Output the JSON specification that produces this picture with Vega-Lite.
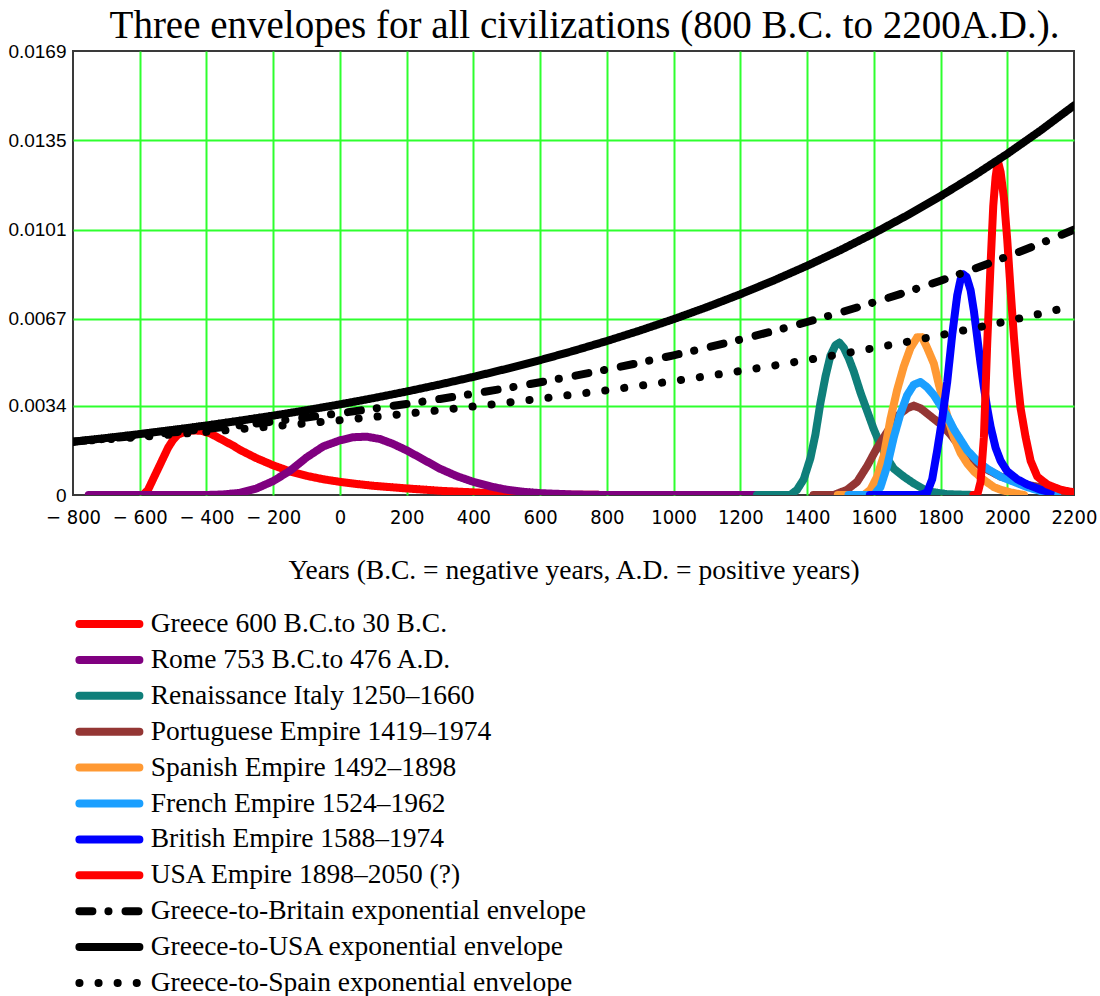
{
  "$schema": "https://vega.github.io/schema/vega-lite/v6.json",
  "width": 1001,
  "height": 444,
  "autosize": {"type": "none"},
  "padding": {"left": 73, "top": 51, "right": 26, "bottom": 501},
  "background": "white",
  "title": {
    "text": "Three envelopes for all civilizations (800 B.C. to 2200A.D.).",
    "font": "Liberation Serif",
    "fontSize": 39,
    "fontWeight": "normal",
    "color": "black",
    "anchor": "middle",
    "offset": -4,
    "dx": 11
  },
  "config": {
    "view": {"stroke": "#3a3a3a", "strokeWidth": 2}
  },
  "encoding": {
    "x": {
      "field": "x",
      "type": "quantitative",
      "scale": {"domain": [-800, 2200], "nice": false, "zero": false},
      "axis": {
        "values": [-800, -600, -400, -200, 0, 200, 400, 600, 800, 1000, 1200, 1400, 1600, 1800, 2000, 2200],
        "format": "d",
        "labelExpr": "datum.value < 0 ? '− ' + (-datum.value) : datum.label",
        "title": "Years (B.C. = negative years, A.D. = positive years)",
        "titleFont": "Liberation Serif",
        "titleFontSize": 27.5,
        "titleFontWeight": "normal",
        "titleColor": "black",
        "titlePadding": 29,
        "labelFont": "DejaVu Sans Condensed, Liberation Sans",
        "labelFontSize": 20,
        "labelColor": "black",
        "labelPadding": 12,
        "labelFlush": false,
        "labelOverlap": false,
        "ticks": false,
        "domain": false,
        "gridColor": "#2eff2e",
        "gridWidth": 2,
        "gridOpacity": {"condition": {"test": "datum.value <= -800 || datum.value >= 2200", "value": 0}, "value": 1}
      }
    },
    "y": {
      "field": "y",
      "type": "quantitative",
      "scale": {"domain": [0, 0.0169], "nice": false},
      "axis": {
        "values": [0, 0.0034, 0.0067, 0.0101, 0.0135, 0.0169],
        "format": ".4~f",
        "title": null,
        "labelFont": "Liberation Sans",
        "labelFontSize": 19,
        "labelColor": "black",
        "labelPadding": 7,
        "ticks": false,
        "domain": false,
        "gridColor": "#2eff2e",
        "gridWidth": 2,
        "gridOpacity": {"condition": {"test": "datum.value < 0.001 || datum.value > 0.0165", "value": 0}, "value": 1}
      }
    },
    "color": {
      "field": "s",
      "type": "nominal",
      "scale": {
        "domain": ["Greece 600 B.C.to 30 B.C.", "Rome 753 B.C.to 476 A.D.", "Renaissance Italy 1250–1660", "Portuguese Empire 1419–1974", "Spanish Empire 1492–1898", "French Empire 1524–1962", "British Empire 1588–1974", "USA Empire 1898–2050 (?)", "Greece-to-Britain exponential envelope", "Greece-to-USA exponential envelope", "Greece-to-Spain exponential envelope"],
        "range": ["#ff0000", "#800080", "#0f7f7a", "#943634", "#ff9933", "#1a9fff", "#0000ff", "#ff0000", "#000000", "#000000", "#000000"]
      },
      "legend": {
        "title": null,
        "orient": "none",
        "legendX": 22.4,
        "legendY": 559,
        "direction": "vertical",
        "symbolType": "M-3,0L3,0",
        "symbolSize": 400,
        "symbolStrokeWidth": 8,
        "labelFont": "Liberation Serif",
        "labelFontSize": 27.5,
        "labelColor": "black",
        "labelOffset": 27.3,
        "labelLimit": 800,
        "rowPadding": 3.9,
        "padding": 0,
        "encode": {"symbols": {"update": {"strokeCap": {"value": "round"}}}}
      }
    },
    "strokeDash": {
      "field": "s",
      "type": "nominal",
      "scale": {
        "domain": ["Greece 600 B.C.to 30 B.C.", "Rome 753 B.C.to 476 A.D.", "Renaissance Italy 1250–1660", "Portuguese Empire 1419–1974", "Spanish Empire 1492–1898", "French Empire 1524–1962", "British Empire 1588–1974", "USA Empire 1898–2050 (?)", "Greece-to-Britain exponential envelope", "Greece-to-USA exponential envelope", "Greece-to-Spain exponential envelope"],
        "range": [[1, 0], [1, 0], [1, 0], [1, 0], [1, 0], [1, 0], [1, 0], [1, 0], [13, 16, 0.1, 17], [1, 0], [0.1, 19]]
      },
      "legend": {
        "title": null,
        "orient": "none",
        "legendX": 22.4,
        "legendY": 559,
        "direction": "vertical",
        "symbolType": "M-3,0L3,0",
        "symbolSize": 400,
        "symbolStrokeWidth": 8,
        "labelFont": "Liberation Serif",
        "labelFontSize": 27.5,
        "labelColor": "black",
        "labelOffset": 27.3,
        "labelLimit": 800,
        "rowPadding": 3.9,
        "padding": 0,
        "encode": {"symbols": {"update": {"strokeCap": {"value": "round"}}}}
      }
    }
  },
  "layer": [
    {
      "data": {"values": [
        {"s": "Greece 600 B.C.to 30 B.C.", "x": -600, "y": 0},
        {"s": "Greece 600 B.C.to 30 B.C.", "x": -590, "y": 0},
        {"s": "Greece 600 B.C.to 30 B.C.", "x": -575, "y": 0.0002},
        {"s": "Greece 600 B.C.to 30 B.C.", "x": -560, "y": 0.0006},
        {"s": "Greece 600 B.C.to 30 B.C.", "x": -545, "y": 0.001},
        {"s": "Greece 600 B.C.to 30 B.C.", "x": -530, "y": 0.0014},
        {"s": "Greece 600 B.C.to 30 B.C.", "x": -515, "y": 0.0018},
        {"s": "Greece 600 B.C.to 30 B.C.", "x": -500, "y": 0.0021},
        {"s": "Greece 600 B.C.to 30 B.C.", "x": -485, "y": 0.0023},
        {"s": "Greece 600 B.C.to 30 B.C.", "x": -465, "y": 0.0024},
        {"s": "Greece 600 B.C.to 30 B.C.", "x": -440, "y": 0.00246},
        {"s": "Greece 600 B.C.to 30 B.C.", "x": -415, "y": 0.00244},
        {"s": "Greece 600 B.C.to 30 B.C.", "x": -390, "y": 0.00235},
        {"s": "Greece 600 B.C.to 30 B.C.", "x": -370, "y": 0.00222},
        {"s": "Greece 600 B.C.to 30 B.C.", "x": -350, "y": 0.00208},
        {"s": "Greece 600 B.C.to 30 B.C.", "x": -320, "y": 0.00188},
        {"s": "Greece 600 B.C.to 30 B.C.", "x": -300, "y": 0.00172},
        {"s": "Greece 600 B.C.to 30 B.C.", "x": -250, "y": 0.0014},
        {"s": "Greece 600 B.C.to 30 B.C.", "x": -200, "y": 0.00113},
        {"s": "Greece 600 B.C.to 30 B.C.", "x": -150, "y": 0.0009},
        {"s": "Greece 600 B.C.to 30 B.C.", "x": -100, "y": 0.00073},
        {"s": "Greece 600 B.C.to 30 B.C.", "x": -50, "y": 0.0006},
        {"s": "Greece 600 B.C.to 30 B.C.", "x": 0, "y": 0.0005},
        {"s": "Greece 600 B.C.to 30 B.C.", "x": 50, "y": 0.00042},
        {"s": "Greece 600 B.C.to 30 B.C.", "x": 100, "y": 0.00035},
        {"s": "Greece 600 B.C.to 30 B.C.", "x": 200, "y": 0.00025},
        {"s": "Greece 600 B.C.to 30 B.C.", "x": 300, "y": 0.00016},
        {"s": "Greece 600 B.C.to 30 B.C.", "x": 400, "y": 0.0001},
        {"s": "Greece 600 B.C.to 30 B.C.", "x": 500, "y": 0.00005},
        {"s": "Greece 600 B.C.to 30 B.C.", "x": 600, "y": 0.00002},
        {"s": "Greece 600 B.C.to 30 B.C.", "x": 700, "y": 0.00001},
        {"s": "Greece 600 B.C.to 30 B.C.", "x": 840, "y": 0},

        {"s": "Rome 753 B.C.to 476 A.D.", "x": -753, "y": 0},
        {"s": "Rome 753 B.C.to 476 A.D.", "x": -400, "y": 0},
        {"s": "Rome 753 B.C.to 476 A.D.", "x": -350, "y": 0.00002},
        {"s": "Rome 753 B.C.to 476 A.D.", "x": -300, "y": 0.00008},
        {"s": "Rome 753 B.C.to 476 A.D.", "x": -250, "y": 0.00025},
        {"s": "Rome 753 B.C.to 476 A.D.", "x": -200, "y": 0.00053},
        {"s": "Rome 753 B.C.to 476 A.D.", "x": -150, "y": 0.00092},
        {"s": "Rome 753 B.C.to 476 A.D.", "x": -100, "y": 0.00143},
        {"s": "Rome 753 B.C.to 476 A.D.", "x": -50, "y": 0.00185},
        {"s": "Rome 753 B.C.to 476 A.D.", "x": 0, "y": 0.00208},
        {"s": "Rome 753 B.C.to 476 A.D.", "x": 40, "y": 0.0022},
        {"s": "Rome 753 B.C.to 476 A.D.", "x": 80, "y": 0.00222},
        {"s": "Rome 753 B.C.to 476 A.D.", "x": 120, "y": 0.00213},
        {"s": "Rome 753 B.C.to 476 A.D.", "x": 160, "y": 0.00194},
        {"s": "Rome 753 B.C.to 476 A.D.", "x": 200, "y": 0.0017},
        {"s": "Rome 753 B.C.to 476 A.D.", "x": 250, "y": 0.00135},
        {"s": "Rome 753 B.C.to 476 A.D.", "x": 300, "y": 0.001},
        {"s": "Rome 753 B.C.to 476 A.D.", "x": 350, "y": 0.00072},
        {"s": "Rome 753 B.C.to 476 A.D.", "x": 400, "y": 0.0005},
        {"s": "Rome 753 B.C.to 476 A.D.", "x": 450, "y": 0.00033},
        {"s": "Rome 753 B.C.to 476 A.D.", "x": 500, "y": 0.0002},
        {"s": "Rome 753 B.C.to 476 A.D.", "x": 550, "y": 0.00012},
        {"s": "Rome 753 B.C.to 476 A.D.", "x": 600, "y": 0.00007},
        {"s": "Rome 753 B.C.to 476 A.D.", "x": 700, "y": 0.00002},
        {"s": "Rome 753 B.C.to 476 A.D.", "x": 800, "y": 0},
        {"s": "Rome 753 B.C.to 476 A.D.", "x": 1250, "y": 0},

        {"s": "Renaissance Italy 1250–1660", "x": 1250, "y": 0},
        {"s": "Renaissance Italy 1250–1660", "x": 1350, "y": 0},
        {"s": "Renaissance Italy 1250–1660", "x": 1370, "y": 0.0002},
        {"s": "Renaissance Italy 1250–1660", "x": 1390, "y": 0.0006},
        {"s": "Renaissance Italy 1250–1660", "x": 1410, "y": 0.0014},
        {"s": "Renaissance Italy 1250–1660", "x": 1425, "y": 0.0023},
        {"s": "Renaissance Italy 1250–1660", "x": 1440, "y": 0.0035},
        {"s": "Renaissance Italy 1250–1660", "x": 1455, "y": 0.0045},
        {"s": "Renaissance Italy 1250–1660", "x": 1470, "y": 0.0053},
        {"s": "Renaissance Italy 1250–1660", "x": 1485, "y": 0.0057},
        {"s": "Renaissance Italy 1250–1660", "x": 1497, "y": 0.0058},
        {"s": "Renaissance Italy 1250–1660", "x": 1510, "y": 0.0056},
        {"s": "Renaissance Italy 1250–1660", "x": 1525, "y": 0.0052},
        {"s": "Renaissance Italy 1250–1660", "x": 1540, "y": 0.0047},
        {"s": "Renaissance Italy 1250–1660", "x": 1560, "y": 0.0039},
        {"s": "Renaissance Italy 1250–1660", "x": 1580, "y": 0.0032},
        {"s": "Renaissance Italy 1250–1660", "x": 1600, "y": 0.0025},
        {"s": "Renaissance Italy 1250–1660", "x": 1620, "y": 0.0019},
        {"s": "Renaissance Italy 1250–1660", "x": 1640, "y": 0.0014},
        {"s": "Renaissance Italy 1250–1660", "x": 1660, "y": 0.001},
        {"s": "Renaissance Italy 1250–1660", "x": 1690, "y": 0.0007},
        {"s": "Renaissance Italy 1250–1660", "x": 1720, "y": 0.00044},
        {"s": "Renaissance Italy 1250–1660", "x": 1750, "y": 0.00022},
        {"s": "Renaissance Italy 1250–1660", "x": 1780, "y": 0.0001},
        {"s": "Renaissance Italy 1250–1660", "x": 1820, "y": 0.00003},
        {"s": "Renaissance Italy 1250–1660", "x": 1900, "y": 0},

        {"s": "Portuguese Empire 1419–1974", "x": 1419, "y": 0},
        {"s": "Portuguese Empire 1419–1974", "x": 1480, "y": 0},
        {"s": "Portuguese Empire 1419–1974", "x": 1520, "y": 0.0002},
        {"s": "Portuguese Empire 1419–1974", "x": 1550, "y": 0.0005},
        {"s": "Portuguese Empire 1419–1974", "x": 1580, "y": 0.0011},
        {"s": "Portuguese Empire 1419–1974", "x": 1610, "y": 0.0018},
        {"s": "Portuguese Empire 1419–1974", "x": 1640, "y": 0.0024},
        {"s": "Portuguese Empire 1419–1974", "x": 1670, "y": 0.003},
        {"s": "Portuguese Empire 1419–1974", "x": 1700, "y": 0.0033},
        {"s": "Portuguese Empire 1419–1974", "x": 1720, "y": 0.0034},
        {"s": "Portuguese Empire 1419–1974", "x": 1740, "y": 0.0033},
        {"s": "Portuguese Empire 1419–1974", "x": 1770, "y": 0.003},
        {"s": "Portuguese Empire 1419–1974", "x": 1800, "y": 0.0027},
        {"s": "Portuguese Empire 1419–1974", "x": 1830, "y": 0.0023},
        {"s": "Portuguese Empire 1419–1974", "x": 1860, "y": 0.0018},
        {"s": "Portuguese Empire 1419–1974", "x": 1890, "y": 0.0014},
        {"s": "Portuguese Empire 1419–1974", "x": 1920, "y": 0.0011},
        {"s": "Portuguese Empire 1419–1974", "x": 1950, "y": 0.0009},
        {"s": "Portuguese Empire 1419–1974", "x": 1980, "y": 0.0007},
        {"s": "Portuguese Empire 1419–1974", "x": 2010, "y": 0.0006},
        {"s": "Portuguese Empire 1419–1974", "x": 2050, "y": 0.0004},
        {"s": "Portuguese Empire 1419–1974", "x": 2100, "y": 0.0003},
        {"s": "Portuguese Empire 1419–1974", "x": 2150, "y": 0.00015},
        {"s": "Portuguese Empire 1419–1974", "x": 2180, "y": 0.0001},

        {"s": "Spanish Empire 1492–1898", "x": 1492, "y": 0},
        {"s": "Spanish Empire 1492–1898", "x": 1570, "y": 0},
        {"s": "Spanish Empire 1492–1898", "x": 1590, "y": 0.0002},
        {"s": "Spanish Empire 1492–1898", "x": 1610, "y": 0.0007},
        {"s": "Spanish Empire 1492–1898", "x": 1630, "y": 0.0015},
        {"s": "Spanish Empire 1492–1898", "x": 1650, "y": 0.0029},
        {"s": "Spanish Empire 1492–1898", "x": 1670, "y": 0.004},
        {"s": "Spanish Empire 1492–1898", "x": 1690, "y": 0.0049},
        {"s": "Spanish Empire 1492–1898", "x": 1710, "y": 0.0056},
        {"s": "Spanish Empire 1492–1898", "x": 1730, "y": 0.006},
        {"s": "Spanish Empire 1492–1898", "x": 1745, "y": 0.006},
        {"s": "Spanish Empire 1492–1898", "x": 1760, "y": 0.0056},
        {"s": "Spanish Empire 1492–1898", "x": 1780, "y": 0.005},
        {"s": "Spanish Empire 1492–1898", "x": 1795, "y": 0.0042},
        {"s": "Spanish Empire 1492–1898", "x": 1810, "y": 0.0035},
        {"s": "Spanish Empire 1492–1898", "x": 1825, "y": 0.0028},
        {"s": "Spanish Empire 1492–1898", "x": 1840, "y": 0.0022},
        {"s": "Spanish Empire 1492–1898", "x": 1860, "y": 0.0016},
        {"s": "Spanish Empire 1492–1898", "x": 1880, "y": 0.0012},
        {"s": "Spanish Empire 1492–1898", "x": 1900, "y": 0.0009},
        {"s": "Spanish Empire 1492–1898", "x": 1930, "y": 0.00057},
        {"s": "Spanish Empire 1492–1898", "x": 1960, "y": 0.0003},
        {"s": "Spanish Empire 1492–1898", "x": 1980, "y": 0.0002},
        {"s": "Spanish Empire 1492–1898", "x": 2010, "y": 0.0001},
        {"s": "Spanish Empire 1492–1898", "x": 2050, "y": 0},

        {"s": "French Empire 1524–1962", "x": 1524, "y": 0},
        {"s": "French Empire 1524–1962", "x": 1600, "y": 0},
        {"s": "French Empire 1524–1962", "x": 1620, "y": 0.0003},
        {"s": "French Empire 1524–1962", "x": 1640, "y": 0.0011},
        {"s": "French Empire 1524–1962", "x": 1660, "y": 0.0022},
        {"s": "French Empire 1524–1962", "x": 1680, "y": 0.0031},
        {"s": "French Empire 1524–1962", "x": 1700, "y": 0.0038},
        {"s": "French Empire 1524–1962", "x": 1720, "y": 0.0042},
        {"s": "French Empire 1524–1962", "x": 1740, "y": 0.0043},
        {"s": "French Empire 1524–1962", "x": 1760, "y": 0.0041},
        {"s": "French Empire 1524–1962", "x": 1780, "y": 0.0038},
        {"s": "French Empire 1524–1962", "x": 1800, "y": 0.0034},
        {"s": "French Empire 1524–1962", "x": 1820, "y": 0.003},
        {"s": "French Empire 1524–1962", "x": 1840, "y": 0.0025},
        {"s": "French Empire 1524–1962", "x": 1860, "y": 0.0021},
        {"s": "French Empire 1524–1962", "x": 1880, "y": 0.0017},
        {"s": "French Empire 1524–1962", "x": 1910, "y": 0.0013},
        {"s": "French Empire 1524–1962", "x": 1940, "y": 0.001},
        {"s": "French Empire 1524–1962", "x": 1980, "y": 0.0007},
        {"s": "French Empire 1524–1962", "x": 2020, "y": 0.0005},
        {"s": "French Empire 1524–1962", "x": 2060, "y": 0.0003},
        {"s": "French Empire 1524–1962", "x": 2100, "y": 0.00015},
        {"s": "French Empire 1524–1962", "x": 2150, "y": 0.00005},

        {"s": "British Empire 1588–1974", "x": 1588, "y": 0},
        {"s": "British Empire 1588–1974", "x": 1740, "y": 0},
        {"s": "British Empire 1588–1974", "x": 1760, "y": 0.0001},
        {"s": "British Empire 1588–1974", "x": 1775, "y": 0.0006},
        {"s": "British Empire 1588–1974", "x": 1790, "y": 0.0017},
        {"s": "British Empire 1588–1974", "x": 1805, "y": 0.0029},
        {"s": "British Empire 1588–1974", "x": 1820, "y": 0.0043},
        {"s": "British Empire 1588–1974", "x": 1835, "y": 0.0061},
        {"s": "British Empire 1588–1974", "x": 1850, "y": 0.0076},
        {"s": "British Empire 1588–1974", "x": 1860, "y": 0.0082},
        {"s": "British Empire 1588–1974", "x": 1868, "y": 0.0084},
        {"s": "British Empire 1588–1974", "x": 1878, "y": 0.0083},
        {"s": "British Empire 1588–1974", "x": 1890, "y": 0.0078},
        {"s": "British Empire 1588–1974", "x": 1900, "y": 0.007},
        {"s": "British Empire 1588–1974", "x": 1910, "y": 0.006},
        {"s": "British Empire 1588–1974", "x": 1920, "y": 0.005},
        {"s": "British Empire 1588–1974", "x": 1930, "y": 0.0041},
        {"s": "British Empire 1588–1974", "x": 1940, "y": 0.0033},
        {"s": "British Empire 1588–1974", "x": 1950, "y": 0.0026},
        {"s": "British Empire 1588–1974", "x": 1965, "y": 0.0018},
        {"s": "British Empire 1588–1974", "x": 1980, "y": 0.0013},
        {"s": "British Empire 1588–1974", "x": 2000, "y": 0.0009},
        {"s": "British Empire 1588–1974", "x": 2030, "y": 0.0006},
        {"s": "British Empire 1588–1974", "x": 2060, "y": 0.0004},
        {"s": "British Empire 1588–1974", "x": 2100, "y": 0.0002},
        {"s": "British Empire 1588–1974", "x": 2130, "y": 0.0001},

        {"s": "USA Empire 1898–2050 (?)", "x": 1898, "y": 0},
        {"s": "USA Empire 1898–2050 (?)", "x": 1910, "y": 0},
        {"s": "USA Empire 1898–2050 (?)", "x": 1920, "y": 0.0005},
        {"s": "USA Empire 1898–2050 (?)", "x": 1930, "y": 0.0022},
        {"s": "USA Empire 1898–2050 (?)", "x": 1940, "y": 0.0058},
        {"s": "USA Empire 1898–2050 (?)", "x": 1950, "y": 0.0088},
        {"s": "USA Empire 1898–2050 (?)", "x": 1958, "y": 0.011},
        {"s": "USA Empire 1898–2050 (?)", "x": 1965, "y": 0.0121},
        {"s": "USA Empire 1898–2050 (?)", "x": 1972, "y": 0.0127},
        {"s": "USA Empire 1898–2050 (?)", "x": 1980, "y": 0.0123},
        {"s": "USA Empire 1898–2050 (?)", "x": 1990, "y": 0.0113},
        {"s": "USA Empire 1898–2050 (?)", "x": 2000, "y": 0.0097},
        {"s": "USA Empire 1898–2050 (?)", "x": 2010, "y": 0.0078},
        {"s": "USA Empire 1898–2050 (?)", "x": 2020, "y": 0.006},
        {"s": "USA Empire 1898–2050 (?)", "x": 2030, "y": 0.0045},
        {"s": "USA Empire 1898–2050 (?)", "x": 2040, "y": 0.0033},
        {"s": "USA Empire 1898–2050 (?)", "x": 2055, "y": 0.0022},
        {"s": "USA Empire 1898–2050 (?)", "x": 2070, "y": 0.0013},
        {"s": "USA Empire 1898–2050 (?)", "x": 2090, "y": 0.0007},
        {"s": "USA Empire 1898–2050 (?)", "x": 2120, "y": 0.0004},
        {"s": "USA Empire 1898–2050 (?)", "x": 2160, "y": 0.0002},
        {"s": "USA Empire 1898–2050 (?)", "x": 2200, "y": 0.0001}
      ]},
      "mark": {"type": "line", "strokeWidth": 8, "strokeCap": "round", "strokeJoin": "round", "clip": true}
    },
    {
      "data": {"values": [
        {"s": "Greece-to-Britain exponential envelope", "x": -800, "y": 0.00203},
        {"s": "Greece-to-Britain exponential envelope", "x": -700, "y": 0.002142},
        {"s": "Greece-to-Britain exponential envelope", "x": -600, "y": 0.002259},
        {"s": "Greece-to-Britain exponential envelope", "x": -500, "y": 0.002383},
        {"s": "Greece-to-Britain exponential envelope", "x": -400, "y": 0.002514},
        {"s": "Greece-to-Britain exponential envelope", "x": -300, "y": 0.002652},
        {"s": "Greece-to-Britain exponential envelope", "x": -200, "y": 0.002798},
        {"s": "Greece-to-Britain exponential envelope", "x": -100, "y": 0.002952},
        {"s": "Greece-to-Britain exponential envelope", "x": 0, "y": 0.003114},
        {"s": "Greece-to-Britain exponential envelope", "x": 100, "y": 0.003285},
        {"s": "Greece-to-Britain exponential envelope", "x": 200, "y": 0.003466},
        {"s": "Greece-to-Britain exponential envelope", "x": 300, "y": 0.003656},
        {"s": "Greece-to-Britain exponential envelope", "x": 400, "y": 0.003857},
        {"s": "Greece-to-Britain exponential envelope", "x": 500, "y": 0.004069},
        {"s": "Greece-to-Britain exponential envelope", "x": 600, "y": 0.004292},
        {"s": "Greece-to-Britain exponential envelope", "x": 700, "y": 0.004528},
        {"s": "Greece-to-Britain exponential envelope", "x": 800, "y": 0.004777},
        {"s": "Greece-to-Britain exponential envelope", "x": 900, "y": 0.00504},
        {"s": "Greece-to-Britain exponential envelope", "x": 1000, "y": 0.005317},
        {"s": "Greece-to-Britain exponential envelope", "x": 1100, "y": 0.005609},
        {"s": "Greece-to-Britain exponential envelope", "x": 1200, "y": 0.005917},
        {"s": "Greece-to-Britain exponential envelope", "x": 1300, "y": 0.006242},
        {"s": "Greece-to-Britain exponential envelope", "x": 1400, "y": 0.006585},
        {"s": "Greece-to-Britain exponential envelope", "x": 1500, "y": 0.006947},
        {"s": "Greece-to-Britain exponential envelope", "x": 1600, "y": 0.007329},
        {"s": "Greece-to-Britain exponential envelope", "x": 1700, "y": 0.007731},
        {"s": "Greece-to-Britain exponential envelope", "x": 1800, "y": 0.008156},
        {"s": "Greece-to-Britain exponential envelope", "x": 1900, "y": 0.008604},
        {"s": "Greece-to-Britain exponential envelope", "x": 2000, "y": 0.009077},
        {"s": "Greece-to-Britain exponential envelope", "x": 2100, "y": 0.009576},
        {"s": "Greece-to-Britain exponential envelope", "x": 2200, "y": 0.010102},

        {"s": "Greece-to-USA exponential envelope", "x": -800, "y": 0.00203},
        {"s": "Greece-to-USA exponential envelope", "x": -700, "y": 0.002169},
        {"s": "Greece-to-USA exponential envelope", "x": -600, "y": 0.002318},
        {"s": "Greece-to-USA exponential envelope", "x": -500, "y": 0.002477},
        {"s": "Greece-to-USA exponential envelope", "x": -400, "y": 0.002646},
        {"s": "Greece-to-USA exponential envelope", "x": -300, "y": 0.002828},
        {"s": "Greece-to-USA exponential envelope", "x": -200, "y": 0.003021},
        {"s": "Greece-to-USA exponential envelope", "x": -100, "y": 0.003228},
        {"s": "Greece-to-USA exponential envelope", "x": 0, "y": 0.00345},
        {"s": "Greece-to-USA exponential envelope", "x": 100, "y": 0.003686},
        {"s": "Greece-to-USA exponential envelope", "x": 200, "y": 0.003939},
        {"s": "Greece-to-USA exponential envelope", "x": 300, "y": 0.004209},
        {"s": "Greece-to-USA exponential envelope", "x": 400, "y": 0.004497},
        {"s": "Greece-to-USA exponential envelope", "x": 500, "y": 0.004805},
        {"s": "Greece-to-USA exponential envelope", "x": 600, "y": 0.005134},
        {"s": "Greece-to-USA exponential envelope", "x": 700, "y": 0.005486},
        {"s": "Greece-to-USA exponential envelope", "x": 800, "y": 0.005862},
        {"s": "Greece-to-USA exponential envelope", "x": 900, "y": 0.006264},
        {"s": "Greece-to-USA exponential envelope", "x": 1000, "y": 0.006693},
        {"s": "Greece-to-USA exponential envelope", "x": 1100, "y": 0.007152},
        {"s": "Greece-to-USA exponential envelope", "x": 1200, "y": 0.007642},
        {"s": "Greece-to-USA exponential envelope", "x": 1300, "y": 0.008165},
        {"s": "Greece-to-USA exponential envelope", "x": 1400, "y": 0.008725},
        {"s": "Greece-to-USA exponential envelope", "x": 1500, "y": 0.009323},
        {"s": "Greece-to-USA exponential envelope", "x": 1600, "y": 0.009962},
        {"s": "Greece-to-USA exponential envelope", "x": 1700, "y": 0.010644},
        {"s": "Greece-to-USA exponential envelope", "x": 1800, "y": 0.011374},
        {"s": "Greece-to-USA exponential envelope", "x": 1900, "y": 0.012153},
        {"s": "Greece-to-USA exponential envelope", "x": 2000, "y": 0.012986},
        {"s": "Greece-to-USA exponential envelope", "x": 2100, "y": 0.013876},
        {"s": "Greece-to-USA exponential envelope", "x": 2200, "y": 0.014826},

        {"s": "Greece-to-Spain exponential envelope", "x": -800, "y": 0.00203},
        {"s": "Greece-to-Spain exponential envelope", "x": -700, "y": 0.002117},
        {"s": "Greece-to-Spain exponential envelope", "x": -600, "y": 0.002209},
        {"s": "Greece-to-Spain exponential envelope", "x": -500, "y": 0.002304},
        {"s": "Greece-to-Spain exponential envelope", "x": -400, "y": 0.002403},
        {"s": "Greece-to-Spain exponential envelope", "x": -300, "y": 0.002507},
        {"s": "Greece-to-Spain exponential envelope", "x": -200, "y": 0.002615},
        {"s": "Greece-to-Spain exponential envelope", "x": -100, "y": 0.002728},
        {"s": "Greece-to-Spain exponential envelope", "x": 0, "y": 0.002845},
        {"s": "Greece-to-Spain exponential envelope", "x": 100, "y": 0.002968},
        {"s": "Greece-to-Spain exponential envelope", "x": 200, "y": 0.003096},
        {"s": "Greece-to-Spain exponential envelope", "x": 300, "y": 0.003229},
        {"s": "Greece-to-Spain exponential envelope", "x": 400, "y": 0.003369},
        {"s": "Greece-to-Spain exponential envelope", "x": 500, "y": 0.003514},
        {"s": "Greece-to-Spain exponential envelope", "x": 600, "y": 0.003665},
        {"s": "Greece-to-Spain exponential envelope", "x": 700, "y": 0.003823},
        {"s": "Greece-to-Spain exponential envelope", "x": 800, "y": 0.003988},
        {"s": "Greece-to-Spain exponential envelope", "x": 900, "y": 0.00416},
        {"s": "Greece-to-Spain exponential envelope", "x": 1000, "y": 0.004339},
        {"s": "Greece-to-Spain exponential envelope", "x": 1100, "y": 0.004526},
        {"s": "Greece-to-Spain exponential envelope", "x": 1200, "y": 0.004722},
        {"s": "Greece-to-Spain exponential envelope", "x": 1300, "y": 0.004925},
        {"s": "Greece-to-Spain exponential envelope", "x": 1400, "y": 0.005138},
        {"s": "Greece-to-Spain exponential envelope", "x": 1500, "y": 0.005359},
        {"s": "Greece-to-Spain exponential envelope", "x": 1600, "y": 0.00559},
        {"s": "Greece-to-Spain exponential envelope", "x": 1700, "y": 0.005831},
        {"s": "Greece-to-Spain exponential envelope", "x": 1800, "y": 0.006083},
        {"s": "Greece-to-Spain exponential envelope", "x": 1900, "y": 0.006345},
        {"s": "Greece-to-Spain exponential envelope", "x": 2000, "y": 0.006618},
        {"s": "Greece-to-Spain exponential envelope", "x": 2100, "y": 0.006904},
        {"s": "Greece-to-Spain exponential envelope", "x": 2200, "y": 0.007201}
      ]},
      "mark": {"type": "line", "strokeWidth": 8, "strokeCap": "round", "strokeJoin": "round", "clip": true}
    }
  ]
}
